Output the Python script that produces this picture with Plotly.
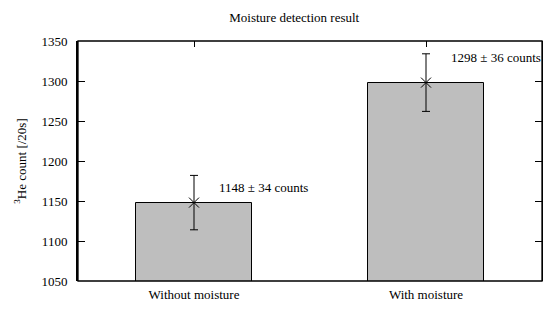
import plotly.graph_objects as go

categories = ["Without moisture", "With moisture"]
counts = [1148, 1298]
errors = [34, 36]
labels = ["1148 ± 34 counts", "1298 ± 36 counts"]
label_y = [1167, 1329]
label_dx = 0.1
y_ticks = [1050, 1100, 1150, 1200, 1250, 1300, 1350]

font = dict(family="Liberation Serif, Times New Roman, serif", size=13, color="black")
xs = list(range(len(categories)))

fig = go.Figure()
fig.add_trace(go.Bar(
    x=xs, y=counts, width=0.5,
    marker=dict(color="#bebebe", line=dict(color="black", width=1)),
    showlegend=False, hoverinfo="skip",
))
fig.add_trace(go.Scatter(
    x=xs, y=counts, mode="markers",
    marker=dict(symbol="x-thin", size=10, line=dict(color="black", width=1), color="black"),
    error_y=dict(type="data", array=errors, color="black", thickness=1, width=4),
    showlegend=False, hoverinfo="skip",
))
# invisible trace to activate top axis and right axis (for mirrored ticks)
fig.add_trace(go.Scatter(x=xs, y=counts, xaxis="x2", yaxis="y2", mode="markers",
                         marker=dict(opacity=0), showlegend=False, hoverinfo="skip"))

for i, t in enumerate(labels):
    fig.add_annotation(x=xs[i] + label_dx, y=label_y[i], text=t, showarrow=False,
                       xanchor="left", yanchor="middle", font=font)

# plot frame
fig.add_shape(type="rect", xref="paper", yref="paper", x0=0, x1=1, y0=0, y1=1,
              line=dict(color="black", width=1.3), layer="above")

fig.update_layout(
    width=552, height=312,
    margin=dict(l=78, r=10, t=41, b=28),
    plot_bgcolor="white", paper_bgcolor="white",
    font=font,
    title=dict(text="Moisture detection result", x=0.533, xanchor="center",
               y=0.945, yanchor="middle", font=font),
    xaxis=dict(range=[-0.5, 1.5], tickvals=xs, ticktext=categories, ticks="",
               showline=False, showgrid=False, zeroline=False, tickfont=font,
               ticklabelstandoff=4),
    xaxis2=dict(range=[-0.5, 1.5], overlaying="x", side="top", tickvals=xs,
                showticklabels=False, ticks="inside", ticklen=6, tickcolor="black",
                showgrid=False, zeroline=False, showline=False),
    yaxis=dict(range=[1050, 1350], tickvals=y_ticks, ticks="inside", ticklen=7,
               tickcolor="black", showline=True, linecolor="black", linewidth=2,
               showgrid=False, zeroline=False, tickfont=font,
               ticklabelstandoff=6,
               title=dict(text="<sup>3</sup>He count [/20s]", font=font, standoff=12)),
    yaxis2=dict(range=[1050, 1350], tickvals=y_ticks, overlaying="y", side="right",
                ticks="inside", ticklen=7, tickcolor="black", showticklabels=False,
                showline=True, linecolor="black", linewidth=1.3,
                showgrid=False, zeroline=False),
    bargap=0,
)

fig.write_html("out.html", config={"displayModeBar": False},
               post_script="document.body.style.margin='0';document.body.style.overflow='hidden';")
